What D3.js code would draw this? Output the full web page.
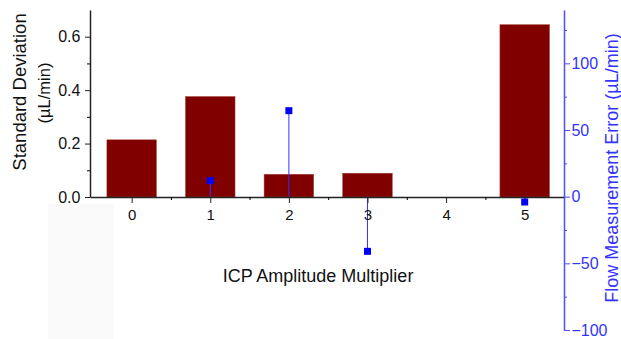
<!DOCTYPE html>
<html>
<head>
<meta charset="utf-8">
<script src="https://cdn.jsdelivr.net/npm/d3@7"></script>
<style>
  body { margin: 0; background: #fff; }
  svg text { font-family: "Liberation Sans", Arial, sans-serif; }
</style>
</head>
<body>
<div id="chart"></div>
<script>
// data
const multipliers = [0, 1, 2, 3, 4, 5];
const stdDev = [0.214, 0.376, 0.085, 0.089, 0, 0.645];
const errX = [1, 2, 3, 5];
const flowError = [12, 64.5, -41, -4];
const leftTicks = [0, 0.2, 0.4, 0.6];
const rightTicks = [-100, -50, 0, 50, 100];

const width = 621, height = 339;
const svg = d3.select("#chart").append("svg")
    .attr("width", width)
    .attr("height", height);

// faint grey patch in the lower left of the original
svg.append("rect")
    .attr("x", 48).attr("y", 204).attr("width", 66).attr("height", 135)
    .attr("fill", "#fafafa");

const x = d3.scaleLinear().domain([-0.53, 5.5]).range([90, 564]);
const yL = d3.scaleLinear().domain([0, 0.7]).range([197, 10]);
const yR = d3.scaleLinear().domain([-100, 140]).range([330, 10]);
const barW = x(0.63) - x(0);

// bars
svg.selectAll(".bar")
    .data(multipliers)
    .join("rect")
    .attr("class", "bar")
    .attr("x", d => x(d) - barW / 2)
    .attr("y", (d, i) => yL(stdDev[i]))
    .attr("width", barW)
    .attr("height", (d, i) => yL(0) - yL(stdDev[i]))
    .attr("fill", "#800000")
    .attr("stroke", "#a04030")
    .attr("stroke-width", 0.5);

// drop lines + markers for flow error
svg.selectAll(".stem")
    .data(errX)
    .join("line")
    .attr("class", "stem")
    .attr("x1", d => x(d)).attr("x2", d => x(d))
    .attr("y1", yR(0))
    .attr("y2", (d, i) => yR(flowError[i]))
    .attr("stroke", "#3333ff")
    .attr("stroke-width", 1);

// x axis
const xAxis = svg.append("g")
    .attr("transform", `translate(0,${yL(0)})`)
    .call(d3.axisBottom(x).tickValues(multipliers).tickFormat(d3.format("d")).tickSize(6).tickSizeOuter(0));
xAxis.selectAll("text").attr("font-size", 15).attr("fill", "#111").attr("dy", "0.9em");
svg.append("g")
    .attr("transform", `translate(0,${yL(0)})`)
    .call(d3.axisBottom(x).tickValues([0.5, 1.5, 2.5, 3.5, 4.5]).tickFormat("").tickSize(3).tickSizeOuter(0))
    .select(".domain").remove();

// left axis
const left = svg.append("g")
    .attr("transform", `translate(${x.range()[0]},0)`)
    .call(d3.axisLeft(yL).tickValues(leftTicks).tickFormat(d3.format(".1f")).tickSize(5).tickSizeOuter(0));
left.selectAll("text").attr("font-size", 16).attr("fill", "#111").attr("dx", "-0.1em");
svg.append("g")
    .attr("transform", `translate(${x.range()[0]},0)`)
    .call(d3.axisLeft(yL).tickValues([0.1, 0.3, 0.5]).tickFormat("").tickSize(3))
    .select(".domain").remove();

// right axis
const right = svg.append("g")
    .attr("class", "raxis")
    .attr("transform", `translate(${x.range()[1]},0)`)
    .call(d3.axisRight(yR).tickValues(rightTicks).tickSize(6).tickSizeOuter(0));
right.selectAll("text").attr("font-size", 16).attr("fill", "#3333ff").attr("dx", "-0.1em");
svg.append("g")
    .attr("class", "raxis")
    .attr("transform", `translate(${x.range()[1]},0)`)
    .call(d3.axisRight(yR).tickValues([-75, -25, 25, 75, 125]).tickFormat("").tickSize(3))
    .select(".domain").remove();

svg.selectAll(".domain").attr("stroke-width", 1.5);
xAxis.selectAll("line, .domain").attr("stroke", "#222");
left.selectAll("line, .domain").attr("stroke", "#222");
svg.selectAll(".raxis").selectAll("line, .domain").attr("stroke", "#4d4dff");

// markers on top
svg.selectAll(".pt")
    .data(errX)
    .join("rect")
    .attr("class", "pt")
    .attr("x", d => x(d) - 3.5)
    .attr("y", (d, i) => yR(flowError[i]) - 3.5)
    .attr("width", 7).attr("height", 7)
    .attr("fill", "#0000ff");

// titles
svg.append("text")
    .attr("transform", "translate(26,92) rotate(-90)")
    .attr("text-anchor", "middle")
    .attr("font-size", 18.5).attr("fill", "#111")
    .text("Standard Deviation");
svg.append("text")
    .attr("transform", "translate(50,93) rotate(-90)")
    .attr("text-anchor", "middle")
    .attr("font-size", 16.5).attr("fill", "#111")
    .text("(µL/min)");
svg.append("text")
    .attr("x", 318).attr("y", 282)
    .attr("text-anchor", "middle")
    .attr("font-size", 18).attr("fill", "#111")
    .text("ICP Amplitude Multiplier");
svg.append("text")
    .attr("transform", "translate(618,168) rotate(-90)")
    .attr("text-anchor", "middle")
    .attr("font-size", 18).attr("fill", "#3333ff")
    .text("Flow Measurement Error (µL/min)");
</script>
</body>
</html>
